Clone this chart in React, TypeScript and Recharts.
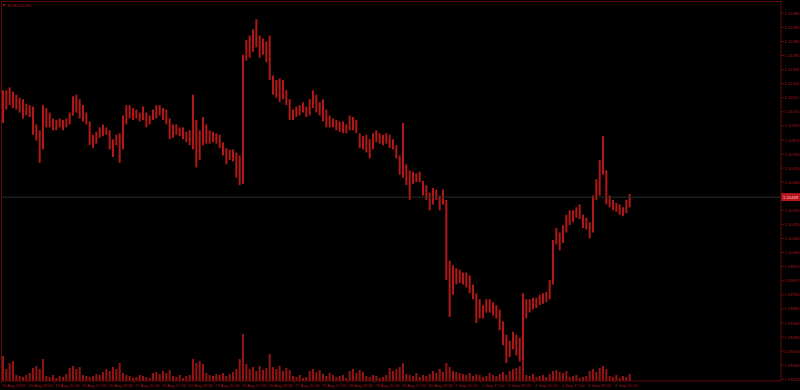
import React from 'react';
import { ComposedChart, Bar, XAxis, YAxis, ReferenceLine } from 'recharts';

// EURUSD H1, aggregated to 2-hour bars (high / low)
const highs = [
  1.1116, 1.1116, 1.1118, 1.1115, 1.1113, 1.1111, 1.1110, 1.1107, 1.1106, 1.1105,
  1.1093, 1.1089, 1.1106, 1.1104, 1.1101, 1.1097, 1.1096, 1.1097, 1.1096, 1.1097,
  1.1101, 1.1112, 1.1113, 1.1110, 1.1106, 1.1101, 1.1095, 1.1086, 1.1088, 1.1091,
  1.1093, 1.1091, 1.1089, 1.1083, 1.1086, 1.1087, 1.1099, 1.1106, 1.1106, 1.1104,
  1.1103, 1.1101, 1.1105, 1.1101, 1.1099, 1.1103, 1.1106, 1.1106, 1.1104, 1.1103,
  1.1097, 1.1093, 1.1093, 1.1091, 1.1091, 1.1088, 1.1089, 1.1113, 1.1096, 1.1089,
  1.1098, 1.1093, 1.1089, 1.1088, 1.1087, 1.1086, 1.1081, 1.1077, 1.1076, 1.1076,
  1.1074, 1.1072, 1.1140, 1.1150, 1.1153, 1.1157, 1.1164, 1.1153, 1.1151, 1.1149,
  1.1153, 1.1126, 1.1123, 1.1124, 1.1123, 1.1116, 1.1110, 1.1103, 1.1105, 1.1106,
  1.1108, 1.1105, 1.1110, 1.1116, 1.1113, 1.1108, 1.1110, 1.1103, 1.1099, 1.1097,
  1.1096, 1.1095, 1.1095, 1.1093, 1.1099, 1.1098, 1.1096, 1.1087, 1.1085, 1.1086,
  1.1083, 1.1087, 1.1089, 1.1087, 1.1086, 1.1087, 1.1086, 1.1083, 1.1079, 1.1072,
  1.1094, 1.1066, 1.1062, 1.1061, 1.1060, 1.1061, 1.1055, 1.1052, 1.1047, 1.1050,
  1.1049, 1.1045, 1.1049, 1.1042, 1.1001, 1.0998, 1.0996, 1.0995, 1.0993, 1.0993,
  1.0991, 1.0985, 1.0979, 1.0975, 1.0971, 1.0975, 1.0975, 1.0973, 1.0971, 1.0968,
  1.0960, 1.0951, 1.0947, 1.0953, 1.0951, 1.0949, 1.0979, 1.0975, 1.0975, 1.0976,
  1.0976, 1.0978, 1.0979, 1.0980, 1.0988, 1.1015, 1.1023, 1.1020, 1.1025, 1.1032,
  1.1035, 1.1035, 1.1037, 1.1039, 1.1032, 1.1030, 1.1027, 1.1045, 1.1056, 1.1069,
  1.1085, 1.1062, 1.1045, 1.1042, 1.1040, 1.1039, 1.1037, 1.1042, 1.1046,
];

const lows = [
  1.1094, 1.1103, 1.1106, 1.1104, 1.1103, 1.1101, 1.1097, 1.1099, 1.1098, 1.1086,
  1.1082, 1.1067, 1.1076, 1.1091, 1.1091, 1.1089, 1.1089, 1.1091, 1.1089, 1.1091,
  1.1093, 1.1099, 1.1101, 1.1097, 1.1095, 1.1093, 1.1079, 1.1077, 1.1080, 1.1084,
  1.1085, 1.1086, 1.1076, 1.1071, 1.1079, 1.1067, 1.1076, 1.1093, 1.1097, 1.1096,
  1.1097, 1.1095, 1.1096, 1.1091, 1.1093, 1.1096, 1.1097, 1.1099, 1.1096, 1.1093,
  1.1083, 1.1084, 1.1086, 1.1085, 1.1083, 1.1081, 1.1079, 1.1076, 1.1064, 1.1069,
  1.1079, 1.1080, 1.1080, 1.1081, 1.1080, 1.1077, 1.1072, 1.1066, 1.1069, 1.1068,
  1.1057, 1.1052, 1.1053, 1.1136, 1.1138, 1.1142, 1.1145, 1.1138, 1.1140, 1.1135,
  1.1123, 1.1113, 1.1111, 1.1108, 1.1110, 1.1106, 1.1096, 1.1096, 1.1098, 1.1099,
  1.1101, 1.1098, 1.1099, 1.1104, 1.1101, 1.1099, 1.1095, 1.1091, 1.1091, 1.1091,
  1.1089, 1.1088, 1.1087, 1.1087, 1.1089, 1.1089, 1.1087, 1.1077, 1.1076, 1.1074,
  1.1070, 1.1076, 1.1081, 1.1080, 1.1079, 1.1080, 1.1077, 1.1076, 1.1070, 1.1059,
  1.1057, 1.1052, 1.1042, 1.1053, 1.1054, 1.1054, 1.1045, 1.1042, 1.1035, 1.1039,
  1.1042, 1.1035, 1.1039, 1.0988, 1.0963, 1.0978, 1.0985, 1.0986, 1.0985, 1.0983,
  1.0979, 1.0975, 1.0959, 1.0962, 1.0962, 1.0966, 1.0966, 1.0964, 1.0962, 1.0954,
  1.0944, 1.0932, 1.0936, 1.0941, 1.0937, 1.0933, 1.0934, 1.0962, 1.0966, 1.0968,
  1.0969, 1.0971, 1.0972, 1.0973, 1.0975, 1.0985, 1.1012, 1.1008, 1.1013, 1.1020,
  1.1025, 1.1027, 1.1030, 1.1029, 1.1023, 1.1022, 1.1016, 1.1020, 1.1042, 1.1045,
  1.1059, 1.1039, 1.1037, 1.1035, 1.1034, 1.1032, 1.1031, 1.1033, 1.1037,
];

// tick volume per bar
const volumes = [
  500, 240, 360, 400, 120, 100, 80, 120, 160, 260,
  300, 240, 440, 100, 80, 120, 60, 100, 80, 140,
  260, 300, 240, 280, 120, 100, 80, 100, 140, 120,
  180, 240, 200, 280, 240, 360, 160, 120, 100, 60,
  80, 120, 100, 80, 60, 160, 180, 140, 200, 160,
  220, 100, 80, 120, 60, 100, 120, 440, 360, 400,
  340, 160, 120, 100, 140, 120, 160, 100, 140, 180,
  240, 440, 940, 340, 240, 280, 200, 300, 220, 260,
  540, 280, 240, 300, 200, 260, 220, 100, 80, 120,
  60, 80, 200, 240, 180, 220, 140, 100, 160, 120,
  80, 100, 120, 60, 200, 240, 160, 220, 180, 100,
  80, 120, 100, 60, 80, 120, 260, 200, 240, 280,
  360, 140, 120, 100, 160, 80, 120, 100, 140, 200,
  160, 240, 180, 360, 280, 200, 180, 160, 140, 120,
  160, 100, 140, 120, 80, 100, 160, 120, 100, 140,
  180, 120, 200, 240, 260, 300, 460, 120, 100, 140,
  80, 100, 120, 80, 140, 200, 220, 180, 160, 200,
  80, 100, 120, 60, 80, 100, 200, 240, 180, 260,
  300, 240, 100, 80, 120, 60, 100, 80, 140,
];

const timeLabels = [
  '15 Aug 2019', '16 Aug 09:00', '19 Aug 01:00', '19 Aug 17:00', '20 Aug 09:00',
  '21 Aug 01:00', '21 Aug 17:00', '22 Aug 09:00', '23 Aug 01:00', '23 Aug 17:00',
  '26 Aug 09:00', '27 Aug 01:00', '27 Aug 17:00', '28 Aug 09:00', '29 Aug 01:00',
  '29 Aug 17:00', '30 Aug 09:00', '2 Sep 01:00', '2 Sep 17:00', '3 Sep 09:00',
  '4 Sep 01:00', '4 Sep 17:00', '5 Sep 09:00', '6 Sep 01:00',
];

const priceTicks = [
  1.0921, 1.09305, 1.094, 1.09495, 1.0959, 1.09685, 1.0978, 1.09875, 1.0997,
  1.10065, 1.1016, 1.10255, 1.1035, 1.1054, 1.10635, 1.1073, 1.10825, 1.1092,
  1.11015, 1.1111, 1.11205, 1.113, 1.11395, 1.1149, 1.11585, 1.1168,
];

const currentPrice = 1.10439;
const symbol = 'EURUSD,H1';

const SLOTS = 234; // bars that fit the window incl. right-side shift
const BARS_PER_LABEL = 8;

const BG = '#000000';
const AXIS = '#5e0b0b';
const TEXT = '#a51616';
const CANDLE = '#b31717';
const VOL = '#961313';
const FONT = "'Liberation Sans', Arial, sans-serif";

const rows = Array.from({ length: SLOTS }, (_, i) => ({
  i,
  range: i < highs.length ? [lows[i], highs[i]] : undefined,
  vol: i < volumes.length ? volumes[i] : undefined,
}));

const timeTicks = timeLabels.map((_, k) => k * BARS_PER_LABEL);

const TimeTick = (props: any) => {
  const { x, y, payload } = props;
  const label = timeLabels[payload.value / BARS_PER_LABEL];
  const x0 = x - 1.7;
  return (
    <g>
      <line x1={x0} y1={y} x2={x0} y2={y + 2} stroke={AXIS} />
      <text x={x0 + 0.7} y={y + 5.8} fill={TEXT} fontSize={4.2} fontFamily={FONT}>
        {label}
      </text>
    </g>
  );
};

const PriceTick = (props: any) => {
  const { x, y, payload } = props;
  return (
    <text x={x + 0.3} y={y + 1.6} fill={TEXT} fontSize={4.2} fontFamily={FONT}>
      {payload.value.toFixed(5)}
    </text>
  );
};

const PriceBox = (props: any) => {
  const { viewBox } = props;
  const x = viewBox.x + viewBox.width;
  const y = viewBox.y;
  return (
    <g>
      <rect x={x} y={y - 4} width={19} height={8} fill="#b8161c" />
      <text x={x + 2} y={y + 1.6} fill="#f4caca" fontSize={4.2} fontFamily={FONT}>
        {currentPrice.toFixed(5)}
      </text>
    </g>
  );
};

export default function App() {
  const layer: React.CSSProperties = { position: 'absolute', left: 0, top: 0 };
  return (
    <div style={{ position: 'absolute', left: 0, top: 0, width: 800, height: 390, background: BG, overflow: 'hidden' }}>
      {/* volumes, drawn under the price bars */}
      <div style={layer}>
        <ComposedChart width={800} height={390} data={rows} margin={{ top: 2, right: 19, bottom: 9, left: 1 }}>
          <XAxis dataKey="i" type="category" hide />
          <YAxis domain={[0, 7580]} hide allowDataOverflow />
          <Bar dataKey="vol" fill={VOL} barSize={2} isAnimationActive={false} />
        </ComposedChart>
      </div>

      {/* chart frame: top and left borders */}
      <div style={{ ...layer, left: 1, top: 1, width: 780, height: 380, borderTop: `1px solid ${AXIS}`, borderLeft: `1px solid ${AXIS}` }} />

      <div style={layer}>
        <ComposedChart width={800} height={390} data={rows} margin={{ top: 2, right: 0, bottom: 0, left: 1 }}>
          <XAxis
            dataKey="i"
            type="category"
            height={9}
            ticks={timeTicks}
            interval={0}
            tickSize={0}
            tickMargin={0}
            tickLine={false}
            axisLine={{ stroke: AXIS }}
            tick={<TimeTick />}
          />
          <YAxis
            orientation="right"
            width={19}
            type="number"
            domain={[1.09198, 1.11756]}
            allowDataOverflow
            ticks={priceTicks}
            interval={0}
            tickSize={3}
            tickMargin={0}
            tickLine={{ stroke: AXIS }}
            axisLine={{ stroke: AXIS }}
            tick={<PriceTick />}
          />
          <ReferenceLine y={currentPrice} stroke="#2c2c2c" strokeWidth={1} label={<PriceBox />} />
          <Bar dataKey="range" fill={CANDLE} barSize={2} isAnimationActive={false} />
        </ComposedChart>
      </div>

      <svg width={60} height={10} style={{ ...layer }}>
        <rect x={3} y={4} width={2.4} height={1.6} fill={TEXT} />
        <text x={7.5} y={6.5} fill={TEXT} fontSize={4.2} fontFamily={FONT}>
          {symbol}
        </text>
      </svg>
    </div>
  );
}
